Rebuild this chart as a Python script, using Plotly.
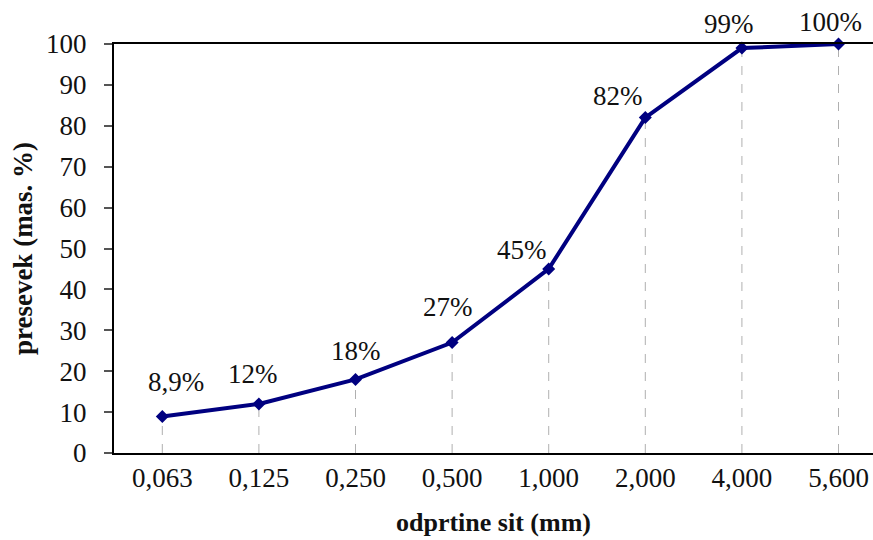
import plotly.graph_objects as go

# odprtine sit (mm) vs presevek (mas. %)
sieves = ["0,063", "0,125", "0,250", "0,500", "1,000", "2,000", "4,000", "5,600"]
passing = [8.9, 12, 18, 27, 45, 82, 99, 100]
labels = ["8,9%", "12%", "18%", "27%", "45%", "82%", "99%", "100%"]

# label placement (anchor, x offset px, y offset px)
label_anchor = ["center", "center", "center", "center", "right", "right", "center", "center"]
label_dx = [14, -6, 0, -4, 0, 0, -13, -8]
label_dy = [18, 13, 11, 19, 2, 5, 7, 5]

serif = "Liberation Serif, Times New Roman, serif"

# vertical drop lines from each point down to the axis
drop_x, drop_y = [], []
for s, p in zip(sieves, passing):
    drop_x += [s, s, None]
    drop_y += [0, p, None]

drops = go.Scatter(x=drop_x, y=drop_y, mode="lines",
                   line=dict(color="#b0b0b0", width=1, dash="dash"),
                   hoverinfo="skip", showlegend=False)

curve = go.Scatter(x=sieves, y=passing, mode="lines+markers",
                   line=dict(color="#000080", width=4),
                   marker=dict(symbol="diamond", size=10, color="#000080"),
                   cliponaxis=False, showlegend=False)

fig = go.Figure(data=[drops, curve])

for s, p, t, a, dx, dy in zip(sieves, passing, labels, label_anchor, label_dx, label_dy):
    fig.add_annotation(x=s, y=p, text=t, showarrow=False,
                       xanchor=a, yanchor="bottom", xshift=dx, yshift=dy,
                       font=dict(family=serif, size=27, color="#111111"))

fig.update_layout(
    width=873, height=540,
    margin=dict(l=114, r=0, t=44, b=87),
    paper_bgcolor="white", plot_bgcolor="white",
    font=dict(family=serif, size=27, color="#111111"),
    xaxis=dict(
        type="category", range=[-0.5, 7.357], automargin=False,
        showline=True, linecolor="black", linewidth=2, mirror=True,
        showgrid=False, ticks="", tickfont=dict(size=27),
        title=dict(text="<b>odprtine sit (mm)</b>", font=dict(size=26), standoff=20),
    ),
    yaxis=dict(
        range=[0, 100], dtick=10, automargin=False,
        showline=True, linecolor="black", linewidth=2,
        showgrid=False, zeroline=False,
        ticks="outside", ticklen=8, tickcolor="#555555", tickwidth=1.5,
        tickfont=dict(size=27), ticklabelstandoff=12,
        title=dict(text="<b>presevek (mas. %)</b>", font=dict(size=27), standoff=6),
    ),
)

# drop the default page margin so the 873x540 figure fills the window
fig.write_html("out.html", config={"displayModeBar": False},
               post_script="document.body.style.margin = '0';")
